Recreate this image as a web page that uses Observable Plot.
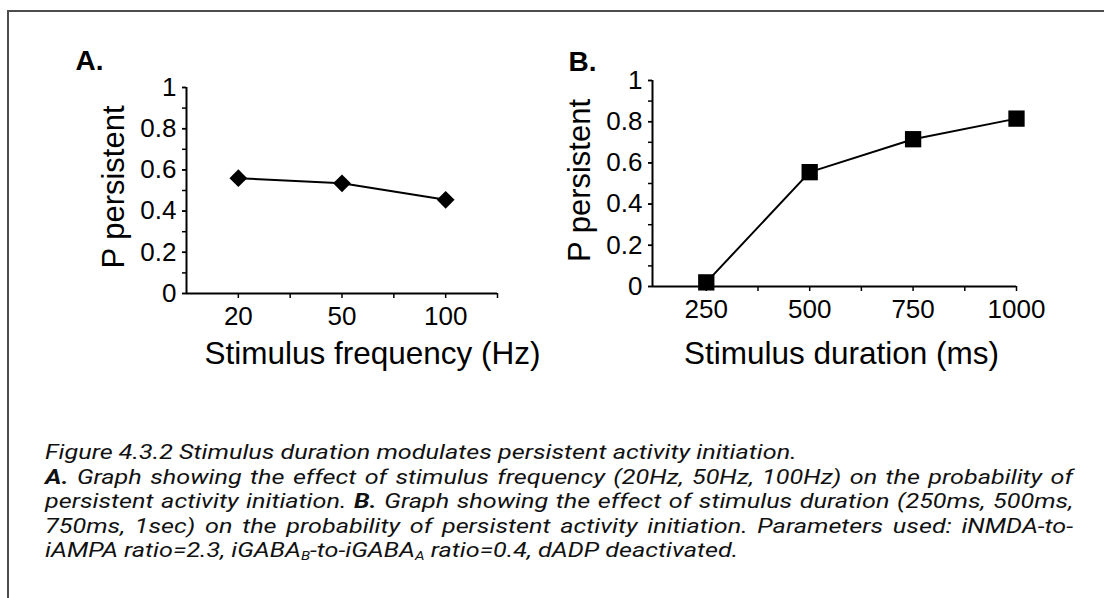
<!DOCTYPE html>
<html>
<head>
<meta charset="utf-8">
<script src="https://cdn.jsdelivr.net/npm/d3@7"></script>
<script src="https://cdn.jsdelivr.net/npm/@observablehq/plot@0.6"></script>
<style>
  html, body { margin: 0; padding: 0; background: #fff; }
  #page { position: relative; width: 1104px; height: 598px; overflow: hidden; background: #fff; }
  #frame { position: absolute; left: 7px; top: 10px; width: 1200px; height: 700px;
           border-left: 2px solid #4d4d4d; border-top: 2px solid #4d4d4d; }
  #chartA { position: absolute; left: 0; top: 0; }
  #chartB { position: absolute; left: 552px; top: 0; }
  #caption { position: absolute; left: 45px; top: 440px; width: 934px;
             transform-origin: 0 0; transform: scaleX(1.1);
             font-family: Roboto, "Liberation Sans", sans-serif; font-style: italic;
             font-size: 20.8px; line-height: 24.6px; color: #111; }
  #caption div { white-space: nowrap; height: 24.6px; }
  #caption .j { text-align: justify; text-align-last: justify; }
  #caption sub { font-size: 0.6em; vertical-align: baseline; position: relative; top: 0.2em; line-height: 0; }
</style>
</head>
<body>
<div id="page">
  <div id="frame"></div>
  <div id="chartA"></div>
  <div id="chartB"></div>
  <div id="caption">
    <div class="l"><span id="cap1">Figure 4.3.2 Stimulus duration modulates persistent activity initiation.</span></div>
    <div class="j"><b>A.</b> Graph showing the effect of stimulus frequency (20Hz, 50Hz, 100Hz) on the probability of</div>
    <div class="j">persistent activity initiation. <b>B.</b> Graph showing the effect of stimulus duration (250ms, 500ms,</div>
    <div class="j">750ms, 1sec) on the probability of persistent activity initiation. Parameters used: iNMDA-to-</div>
    <div class="l">iAMPA ratio=2.3, iGABA<sub>B</sub>-to-iGABA<sub>A</sub> ratio=0.4, dADP deactivated.</div>
  </div>
</div>
<script>
// ---- data ----
const freqLabels = ["20", "50", "100"];
const pFreq = [0.56, 0.535, 0.455];
const durations = [250, 500, 750, 1000];
const pDur = [0.02, 0.555, 0.715, 0.815];
const yMajorTicks = [0, 0.2, 0.4, 0.6, 0.8, 1];
const yMinorTicks = [0, 0.1, 0.2, 0.3, 0.4, 0.5, 0.6, 0.7, 0.8, 0.9, 1];
const freqIndexTicks = [0, 1, 2];
const freqMinorTicks = [0.5, 1.5, 2.5];
const durMinorTicks = [375, 625, 875];
const freqDomain = [-0.5, 2.5];
const durDomain = [120, 1000];
const titleA = "Stimulus frequency (Hz)";
const titleB = "Stimulus duration (ms)";
const yTitle = "P persistent";
const panelA = "A.";
const panelB = "B.";

const dataA = freqLabels.map((f, i) => ({i, f, p: pFreq[i]}));
const dataB = durations.map((d, i) => ({d, p: pDur[i]}));

const font = "'Liberation Sans', Arial, Helvetica, sans-serif";

function yAxes() {
  return [
    Plot.axisY({ticks: yMinorTicks, tickSize: 4, tickFormat: () => "", strokeWidth: 1.5, label: null}),
    Plot.axisY({ticks: yMajorTicks, tickSize: 4, tickPadding: 6, tickFormat: d => String(d),
                fontSize: 26, strokeWidth: 1.5, label: null, fill: "#000"})
  ];
}

const chartA = Plot.plot({
  width: 552, height: 380,
  marginLeft: 186, marginRight: 55, marginTop: 87, marginBottom: 87,
  style: {fontFamily: font, background: "transparent", color: "#000", overflow: "visible"},
  x: {domain: freqDomain},
  y: {domain: [0, 1]},
  marks: [
    ...yAxes(),
    Plot.axisX({ticks: freqIndexTicks, tickFormat: i => freqLabels[i], tickSize: 5, tickPadding: 8,
                fontSize: 26, strokeWidth: 1.5, label: null, fill: "#000"}),
    Plot.axisX({ticks: freqMinorTicks, tickFormat: () => "", tickSize: 5, strokeWidth: 1.5, label: null}),
    Plot.ruleY([0], {strokeWidth: 2}),
    Plot.ruleX([freqDomain[0]], {strokeWidth: 2}),
    Plot.line(dataA, {x: "i", y: "p", stroke: "#000", strokeWidth: 2}),
    Plot.dot(dataA, {x: "i", y: "p", symbol: "diamond2", r: 8, fill: "#000", stroke: "none"}),
    Plot.text([titleA], {text: d => d, frameAnchor: "bottom", textAnchor: "middle", dx: 30.5, dy: 60, fontSize: 31.5, lineAnchor: "middle"}),
    Plot.text([yTitle], {text: d => d, frameAnchor: "left", textAnchor: "middle", rotate: -90, dx: -72.6, dy: -3.5, fontSize: 31, lineAnchor: "middle"}),
    Plot.text([panelA], {text: d => d, frameAnchor: "top-left", textAnchor: "start", dx: -111, dy: -26.3,
                         fontSize: 28, fontWeight: "bold", lineAnchor: "middle"})
  ]
});
document.getElementById("chartA").appendChild(chartA);

const chartB = Plot.plot({
  width: 552, height: 380,
  marginLeft: 100, marginRight: 88, marginTop: 80, marginBottom: 94,
  style: {fontFamily: font, background: "transparent", color: "#000", overflow: "visible"},
  x: {domain: durDomain},
  y: {domain: [0, 1]},
  marks: [
    ...yAxes(),
    Plot.axisX({ticks: durations, tickFormat: d => String(d), tickSize: 5, tickPadding: 8,
                fontSize: 26, strokeWidth: 1.5, label: null, fill: "#000"}),
    Plot.axisX({ticks: durMinorTicks, tickFormat: () => "", tickSize: 5, strokeWidth: 1.5, label: null}),
    Plot.ruleY([0], {strokeWidth: 2}),
    Plot.ruleX([durDomain[0]], {strokeWidth: 2}),
    Plot.line(dataB, {x: "d", y: "p", stroke: "#000", strokeWidth: 2}),
    Plot.dot(dataB, {x: "d", y: "p", symbol: "square", r: 9.2, fill: "#000", stroke: "none"}),
    Plot.text([titleB], {text: d => d, frameAnchor: "bottom", textAnchor: "middle", dx: 7, dy: 67, fontSize: 31.5, lineAnchor: "middle"}),
    Plot.text([yTitle], {text: d => d, frameAnchor: "left", textAnchor: "middle", rotate: -90, dx: -72.6, dy: -3, fontSize: 31, lineAnchor: "middle"}),
    Plot.text([panelB], {text: d => d, frameAnchor: "top-left", textAnchor: "start", dx: -84, dy: -18.3,
                         fontSize: 28, fontWeight: "bold", lineAnchor: "middle"})
  ]
});
document.getElementById("chartB").appendChild(chartB);

// stretch the caption horizontally so its first line spans the reference width (~752px)
function fitCaption() {
  const cap = document.getElementById("caption");
  const w = document.getElementById("cap1").offsetWidth;
  if (w > 0) {
    const s = Math.max(0.9, Math.min(1.3, 752 / w));
    cap.style.transform = "scaleX(" + s.toFixed(4) + ")";
    cap.style.width = (1028 / s).toFixed(1) + "px";
  }
}
fitCaption();
if (document.fonts && document.fonts.load) {
  document.fonts.load("italic 20.8px Roboto").then(fitCaption, () => {});
  document.fonts.ready.then(fitCaption);
}
</script>
</body>
</html>
